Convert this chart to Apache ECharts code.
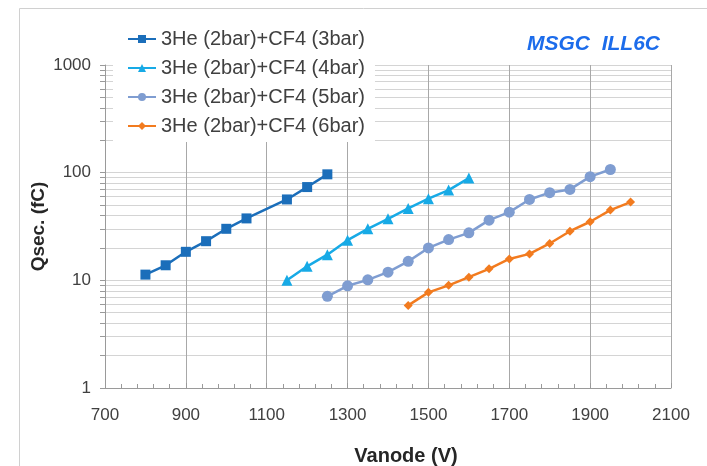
<!DOCTYPE html>
<html>
<head>
<meta charset="utf-8">
<script src="https://cdn.jsdelivr.net/npm/echarts@6/dist/echarts.min.js"></script>
<style>
html,body{margin:0;padding:0;background:#fff;}
#chart{width:707px;height:466px;}
</style>
</head>
<body>
<div id="chart"></div>
<script>
const seriesNames = [
  '3He (2bar)+CF4 (3bar)',
  '3He (2bar)+CF4 (4bar)',
  '3He (2bar)+CF4 (5bar)',
  '3He (2bar)+CF4 (6bar)'
];
const vanode3 = [800, 850, 900, 950, 1000, 1050, 1150, 1200, 1250];
const qsec3 = [11.3, 13.8, 18.4, 23.1, 30.1, 37.6, 56.4, 73.5, 96.5];
const vanode4 = [1150, 1200, 1250, 1300, 1350, 1400, 1450, 1500, 1550, 1600];
const qsec4 = [10.0, 13.5, 17.3, 23.6, 30.1, 37.3, 46.5, 57.3, 68.9, 89.1];
const vanode5 = [1250, 1300, 1350, 1400, 1450, 1500, 1550, 1600, 1650, 1700, 1750, 1800, 1850, 1900, 1950];
const qsec5 = [7.1, 8.9, 10.1, 11.9, 15.0, 20.0, 23.9, 27.6, 36.2, 43.0, 56.4, 65.2, 69.9, 91.8, 107];
const vanode6 = [1450, 1500, 1550, 1600, 1650, 1700, 1750, 1800, 1850, 1900, 1950, 2000];
const qsec6 = [5.85, 7.73, 8.98, 10.7, 12.8, 15.8, 17.6, 22.0, 28.6, 35.0, 44.9, 53.3];
const yMajorTicks = [1, 10, 100, 1000];
const yMinorTicks = [1,2,3,4,5,6,7,8,9,10,20,30,40,50,60,70,80,90,100,200,300,400,500,600,700,800,900,1000];

const FONT = "'Liberation Sans', Arial, sans-serif";
const colors = ['#1B6EBA', '#17AAE6', '#7F9DD1', '#F27B1F'];
const symbols = ['rect', 'triangle', 'circle', 'diamond'];
const symbolSizes = [10, 11, 11, 9];
const xs = [vanode3, vanode4, vanode5, vanode6];
const ys = [qsec3, qsec4, qsec5, qsec6];

const chart = echarts.init(document.getElementById('chart'), null, {renderer: 'canvas'});
const series = seriesNames.map((name, i) => ({
  name: name,
  type: 'line',
  data: xs[i].map((x, j) => [x, ys[i][j]]),
  symbol: symbols[i],
  symbolSize: symbolSizes[i],
  lineStyle: {width: 2.5, color: colors[i]},
  itemStyle: {color: colors[i]},
  z: 3
}));

chart.setOption({
  animation: false,
  backgroundColor: '#fff',
  graphic: [{
    type: 'rect', left: 17, top: 6, z: -1,
    shape: {width: 688, height: 480},
    style: {fill: 'none', stroke: '#d0d0d0', lineWidth: 1}
  }],
  title: {
    text: 'MSGC  ILL6C',
    left: 527, top: 34, padding: 0,
    textStyle: {fontFamily: FONT, fontSize: 21, fontWeight: 'bold', fontStyle: 'italic', color: '#1C6CEB'}
  },
  legend: {
    orient: 'vertical',
    left: 113, top: 25,
    padding: [4, 10, 6, 14],
    backgroundColor: '#fff',
    itemWidth: 28, itemHeight: 10, itemGap: 9,
    data: seriesNames,
    textStyle: {fontFamily: FONT, fontSize: 20, color: '#404040', lineHeight: 20},
    z: 10
  },
  grid: {left: 105, right: 36, top: 65, bottom: 78, containLabel: false, outerBoundsMode: 'none'},
  xAxis: {
    type: 'value', min: 700, max: 2100, interval: 200,
    name: 'Vanode (V)', nameLocation: 'middle', nameGap: 58, nameMoveOverlap: false,
    nameTextStyle: {fontFamily: FONT, fontSize: 20, fontWeight: 'bold', color: '#262626', padding: [0, 0, 0, 36]},
    axisLine: {lineStyle: {color: '#9a9a9a', width: 1}},
    axisTick: {show: true, inside: true, length: 5, lineStyle: {color: '#9a9a9a'}},
    minorTick: {show: true, splitNumber: 5, length: 4, lineStyle: {color: '#9a9a9a'}},
    axisLabel: {fontFamily: FONT, fontSize: 17, color: '#404040', margin: 19, formatter: v => String(v)},
    splitLine: {show: true, lineStyle: {color: '#a8a8a8', width: 1}}
  },
  yAxis: {
    type: 'log', logBase: 10, min: 1, max: 1000,
    name: 'Qsec. (fC)', nameLocation: 'middle', nameGap: 57, nameMoveOverlap: false,
    nameTextStyle: {fontFamily: FONT, fontSize: 19, fontWeight: 'bold', color: '#262626'},
    axisLine: {show: true, lineStyle: {color: '#9a9a9a', width: 1}},
    axisTick: {show: true, inside: false, length: 5, customValues: yMinorTicks, lineStyle: {color: '#9a9a9a'}},
    axisLabel: {fontFamily: FONT, fontSize: 17, color: '#404040', margin: 14, customValues: yMajorTicks, formatter: v => String(v)},
    splitLine: {show: true, lineStyle: {color: '#d4d4d4', width: 1}}
  },
  series: series
});
</script>
</body>
</html>
